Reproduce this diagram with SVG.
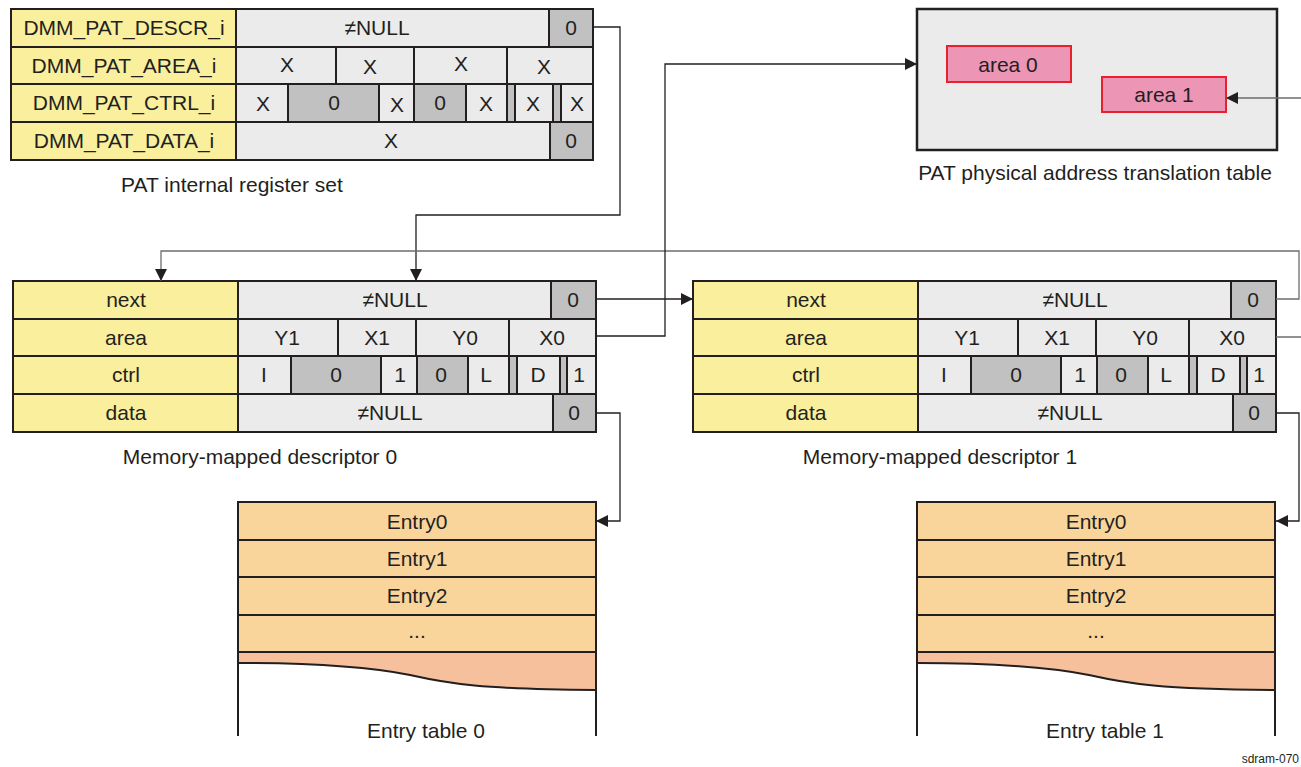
<svg xmlns="http://www.w3.org/2000/svg" width="1301" height="767" viewBox="0 0 1301 767">
<style>
text{font-family:"Liberation Sans",Arial,Helvetica,sans-serif;font-size:21px;fill:#231f20;text-anchor:middle}
.lbl{fill:#f9ef9c;stroke:#231f20;stroke-width:2}
.cell{fill:#ebebeb;stroke:#231f20;stroke-width:2}
.dk{fill:#c1c1c1;stroke:#231f20;stroke-width:2}
.ent{fill:#f9d49b;stroke:#231f20;stroke-width:2}
.conn{fill:none;stroke:#231f20;stroke-width:1.3}
.g{stroke:#6d6e71}
.area{fill:#ed95b4;stroke:#e8202f;stroke-width:2}
.small{font-size:12px}
</style>
<defs>
<marker id="ah" markerUnits="userSpaceOnUse" markerWidth="13" markerHeight="13" refX="12" refY="6" orient="auto">
<path d="M0,0 L12,6 L0,12 z" fill="#231f20"/>
</marker>
</defs>

<g id="register-set">
<rect class="lbl" x="11" y="9" width="225" height="38"/>
<rect class="lbl" x="11" y="47" width="225" height="37"/>
<rect class="lbl" x="11" y="84" width="225" height="38"/>
<rect class="lbl" x="11" y="122" width="225" height="38"/>
<text x="124" y="35">DMM_PAT_DESCR_i</text>
<text x="124" y="73">DMM_PAT_AREA_i</text>
<text x="124" y="110">DMM_PAT_CTRL_i</text>
<text x="124" y="148">DMM_PAT_DATA_i</text>
<rect class="cell" x="236" y="9" width="313" height="38"/>
<rect class="dk" x="549" y="9" width="44" height="38"/>
<text x="377" y="35">≠NULL</text><text x="571" y="35">0</text>
<rect class="cell" x="236" y="47" width="100" height="37"/>
<rect class="cell" x="336" y="47" width="78" height="37"/>
<rect class="cell" x="414" y="47" width="93" height="37"/>
<rect class="cell" x="507" y="47" width="86" height="37"/>
<text x="287" y="72">X</text><text x="370" y="74">X</text><text x="461" y="71">X</text><text x="544" y="74">X</text>
<rect class="cell" x="236" y="84" width="52" height="38"/>
<rect class="dk" x="288" y="84" width="91" height="38"/>
<rect class="cell" x="379" y="84" width="35" height="38"/>
<rect class="dk" x="414" y="84" width="52" height="38"/>
<rect class="cell" x="466" y="84" width="41" height="38"/>
<rect class="dk" x="507" y="84" width="8" height="38"/>
<rect class="cell" x="515" y="84" width="38" height="38"/>
<rect class="dk" x="553" y="84" width="8" height="38"/>
<rect class="cell" x="561" y="84" width="32" height="38"/>
<text x="263" y="111">X</text><text x="334" y="110">0</text><text x="397" y="112">X</text><text x="440" y="110">0</text><text x="486" y="111">X</text><text x="533" y="111">X</text><text x="577" y="111">X</text>
<rect class="cell" x="236" y="122" width="314" height="38"/>
<rect class="dk" x="550" y="122" width="43" height="38"/>
<text x="391" y="148">X</text><text x="571" y="148">0</text>
<text x="232" y="192">PAT internal register set</text>
</g>

<g id="pat-table">
<rect x="917" y="9" width="360" height="141" fill="#ebebeb" stroke="#231f20" stroke-width="2.5"/>
<rect class="area" x="947" y="46" width="124" height="36"/>
<text x="1008" y="72">area 0</text>
<rect class="area" x="1102" y="77" width="124" height="35"/>
<text x="1164" y="102">area 1</text>
<text x="1095" y="180">PAT physical address translation table</text>
</g>

<g id="descriptor-0">
<rect class="lbl" x="13" y="281" width="225" height="38"/>
<rect class="lbl" x="13" y="319" width="225" height="37"/>
<rect class="lbl" x="13" y="356" width="225" height="38"/>
<rect class="lbl" x="13" y="394" width="225" height="38"/>
<text x="126" y="307">next</text>
<text x="126" y="345">area</text>
<text x="126" y="382">ctrl</text>
<text x="126" y="420">data</text>
<rect class="cell" x="238" y="281" width="313" height="38"/>
<rect class="dk" x="551" y="281" width="45" height="38"/>
<text x="395" y="307">≠NULL</text><text x="573" y="307">0</text>
<rect class="cell" x="238" y="319" width="100" height="37"/>
<rect class="cell" x="338" y="319" width="78" height="37"/>
<rect class="cell" x="416" y="319" width="93" height="37"/>
<rect class="cell" x="509" y="319" width="87" height="37"/>
<text x="287" y="345">Y1</text><text x="377" y="345">X1</text><text x="465" y="345">Y0</text><text x="552" y="345">X0</text>
<rect class="cell" x="238" y="356" width="53" height="38"/>
<rect class="dk" x="291" y="356" width="90" height="38"/>
<rect class="cell" x="381" y="356" width="36" height="38"/>
<rect class="dk" x="417" y="356" width="51" height="38"/>
<rect class="cell" x="468" y="356" width="41" height="38"/>
<rect class="dk" x="509" y="356" width="8" height="38"/>
<rect class="cell" x="517" y="356" width="43" height="38"/>
<rect class="dk" x="560" y="356" width="7" height="38"/>
<rect class="cell" x="567" y="356" width="29" height="38"/>
<text x="264" y="382">I</text><text x="336" y="382">0</text><text x="400" y="382">1</text><text x="441" y="382">0</text><text x="486" y="382">L</text><text x="538" y="382">D</text><text x="579" y="382">1</text>
<rect class="cell" x="238" y="394" width="315" height="38"/>
<rect class="dk" x="553" y="394" width="43" height="38"/>
<text x="390" y="420">≠NULL</text><text x="574" y="420">0</text>
<text x="260" y="464">Memory-mapped descriptor 0</text>
</g>

<g id="descriptor-1" transform="translate(680,0)">
<rect class="lbl" x="13" y="281" width="225" height="38"/>
<rect class="lbl" x="13" y="319" width="225" height="37"/>
<rect class="lbl" x="13" y="356" width="225" height="38"/>
<rect class="lbl" x="13" y="394" width="225" height="38"/>
<text x="126" y="307">next</text>
<text x="126" y="345">area</text>
<text x="126" y="382">ctrl</text>
<text x="126" y="420">data</text>
<rect class="cell" x="238" y="281" width="313" height="38"/>
<rect class="dk" x="551" y="281" width="45" height="38"/>
<text x="395" y="307">≠NULL</text><text x="573" y="307">0</text>
<rect class="cell" x="238" y="319" width="100" height="37"/>
<rect class="cell" x="338" y="319" width="78" height="37"/>
<rect class="cell" x="416" y="319" width="93" height="37"/>
<rect class="cell" x="509" y="319" width="87" height="37"/>
<text x="287" y="345">Y1</text><text x="377" y="345">X1</text><text x="465" y="345">Y0</text><text x="552" y="345">X0</text>
<rect class="cell" x="238" y="356" width="53" height="38"/>
<rect class="dk" x="291" y="356" width="90" height="38"/>
<rect class="cell" x="381" y="356" width="36" height="38"/>
<rect class="dk" x="417" y="356" width="51" height="38"/>
<rect class="cell" x="468" y="356" width="41" height="38"/>
<rect class="dk" x="509" y="356" width="8" height="38"/>
<rect class="cell" x="517" y="356" width="43" height="38"/>
<rect class="dk" x="560" y="356" width="7" height="38"/>
<rect class="cell" x="567" y="356" width="29" height="38"/>
<text x="264" y="382">I</text><text x="336" y="382">0</text><text x="400" y="382">1</text><text x="441" y="382">0</text><text x="486" y="382">L</text><text x="538" y="382">D</text><text x="579" y="382">1</text>
<rect class="cell" x="238" y="394" width="315" height="38"/>
<rect class="dk" x="553" y="394" width="43" height="38"/>
<text x="390" y="420">≠NULL</text><text x="574" y="420">0</text>
<text x="260" y="464">Memory-mapped descriptor 1</text>
</g>

<g id="entry-table-0">
<rect class="ent" x="238" y="502" width="358" height="38"/>
<rect class="ent" x="238" y="540" width="358" height="37"/>
<rect class="ent" x="238" y="577" width="358" height="38"/>
<rect class="ent" x="238" y="615" width="358" height="37"/>
<path d="M238,652 H596 V690 C480,689 450,684 410,675 C370,667 320,663 238,663 Z" fill="#f6c09c"/>
<path d="M238,663 C320,663 370,667 410,675 C450,684 480,689 596,690" fill="none" stroke="#231f20" stroke-width="2"/>
<path d="M238,652 H596" stroke="#231f20" stroke-width="2"/>
<path d="M238,502 V736 M596,502 V736" stroke="#231f20" stroke-width="2"/>
<text x="417" y="529">Entry0</text>
<text x="417" y="566">Entry1</text>
<text x="417" y="603">Entry2</text>
<text x="417" y="638">...</text>
<text x="426" y="738">Entry table 0</text>
</g>

<g id="entry-table-1" transform="translate(679,0)">
<rect class="ent" x="238" y="502" width="358" height="38"/>
<rect class="ent" x="238" y="540" width="358" height="37"/>
<rect class="ent" x="238" y="577" width="358" height="38"/>
<rect class="ent" x="238" y="615" width="358" height="37"/>
<path d="M238,652 H596 V690 C480,689 450,684 410,675 C370,667 320,663 238,663 Z" fill="#f6c09c"/>
<path d="M238,663 C320,663 370,667 410,675 C450,684 480,689 596,690" fill="none" stroke="#231f20" stroke-width="2"/>
<path d="M238,652 H596" stroke="#231f20" stroke-width="2"/>
<path d="M238,502 V736 M596,502 V736" stroke="#231f20" stroke-width="2"/>
<text x="417" y="529">Entry0</text>
<text x="417" y="566">Entry1</text>
<text x="417" y="603">Entry2</text>
<text x="417" y="638">...</text>
<text x="426" y="738">Entry table 1</text>
</g>

<g id="connectors">
<path class="conn" d="M593,27 H620 V215 H416 V281" marker-end="url(#ah)"/>
<path class="conn g" d="M1276,299 H1299 V251 H161 V281" marker-end="url(#ah)"/>
<path class="conn" d="M596,299 H693" marker-end="url(#ah)"/>
<path class="conn" d="M596,336 H665 V64 H917" marker-end="url(#ah)"/>
<path class="conn" d="M596,413 H620 V521 H596" marker-end="url(#ah)"/>
<path class="conn g" d="M1276,337 H1306 V98 H1226" marker-end="url(#ah)"/>
<path class="conn" d="M1276,413 H1299 V521 H1276" marker-end="url(#ah)"/>
</g>

<text class="small" x="1299" y="763" style="text-anchor:end">sdram-070</text>
</svg>
